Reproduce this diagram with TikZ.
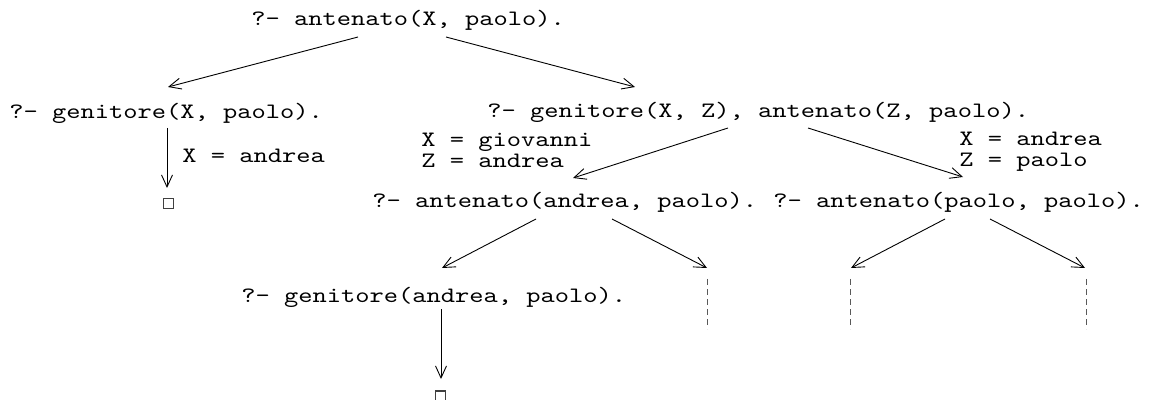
\documentclass[tikz,border=0pt]{standalone}
\usepackage{fontspec}
\newfontfamily\goalfont[FakeStretch=1.234]{Latin Modern Mono}
\usetikzlibrary{arrows.meta}
\tikzset{
  goal/.style={anchor=base west, inner sep=0pt, font=\fontsize{11}{12}\goalfont},
  subst/.style={anchor=base west, inner sep=0pt, align=left,
                font=\fontsize{11}{10.5}\goalfont},
  edge/.style={line width=0.45pt, -{Straight Barb[length=6pt,width=5.5pt,line width=0.45pt]}},
  open/.style={line width=0.5pt, gray!70!black, dash pattern=on 3pt off 2pt},
  empty/.style={draw=black!75, line width=0.6pt, minimum size=5pt, inner sep=0pt}
}
\begin{document}
\begin{tikzpicture}[x=0.5pt,y=-0.5pt]
  \useasboundingbox (0,0) rectangle (1159,400);

  % goals
  \node[goal] (g0) at (251,26) {?- antenato(X, paolo).};
  \node[goal] (g1) at (9,119) {?- genitore(X, paolo).};
  \node[goal] (g2) at (487,118) {?- genitore(X, Z), antenato(Z, paolo).};
  \node[goal] (g3) at (372,208) {?- antenato(andrea, paolo).};
  \node[goal] (g4) at (773,208) {?- antenato(paolo, paolo).};
  \node[goal] (g5) at (241,302) {?- genitore(andrea, paolo).};

  % successful leaves
  \node[empty] (e1) at (168.5,203.5) {};
  \node[empty] (e2) at (440.5,396) {};

  % substitutions (base anchor sits on the last line)
  \node[subst] (s1) at (182,163) {X = andrea};
  \node[subst] (s2) at (421,168) {X = giovanni\\Z = andrea};
  \node[subst] (s3) at (959,167) {X = andrea\\Z = paolo};

  % attachment points on the goals
  \coordinate (a0l) at (358,37);  \coordinate (a0r) at (446,37);
  \coordinate (b1l) at (168,87);  \coordinate (b2r) at (635,87);
  \coordinate (a1)  at (167,128); \coordinate (b1)  at (167,188);
  \coordinate (a2l) at (728,128); \coordinate (b3)  at (573,178);
  \coordinate (a2r) at (808,128); \coordinate (b4)  at (963,177);
  \coordinate (a3l) at (536,219); \coordinate (b5)  at (442,268);
  \coordinate (a3r) at (612,219); \coordinate (c3)  at (707,268);
  \coordinate (a4l) at (945,219); \coordinate (c4l) at (851,268);
  \coordinate (a4r) at (990,219); \coordinate (c4r) at (1085,268);
  \coordinate (a5)  at (441,309); \coordinate (b6)  at (441,379);

  % resolution steps
  \draw[edge] (a0l) -- (b1l);
  \draw[edge] (a0r) -- (b2r);
  \draw[edge] (a1) -- (b1);
  \draw[edge] (a2l) -- (b3);
  \draw[edge] (a2r) -- (b4);
  \draw[edge] (a3l) -- (b5);
  \draw[edge] (a3r) -- (c3);
  \draw[edge] (a4l) -- (c4l);
  \draw[edge] (a4r) -- (c4r);
  \draw[edge] (a5) -- (b6);

  % unexplored branches
  \coordinate (d1) at (707,329);  \coordinate (u1) at (707,279);
  \coordinate (d2) at (850,329);  \coordinate (u2) at (850,279);
  \coordinate (d3) at (1086,329); \coordinate (u3) at (1086,279);
  \draw[open] (u1) -- (d1);
  \draw[open] (u2) -- (d2);
  \draw[open] (u3) -- (d3);
\end{tikzpicture}
\end{document}
